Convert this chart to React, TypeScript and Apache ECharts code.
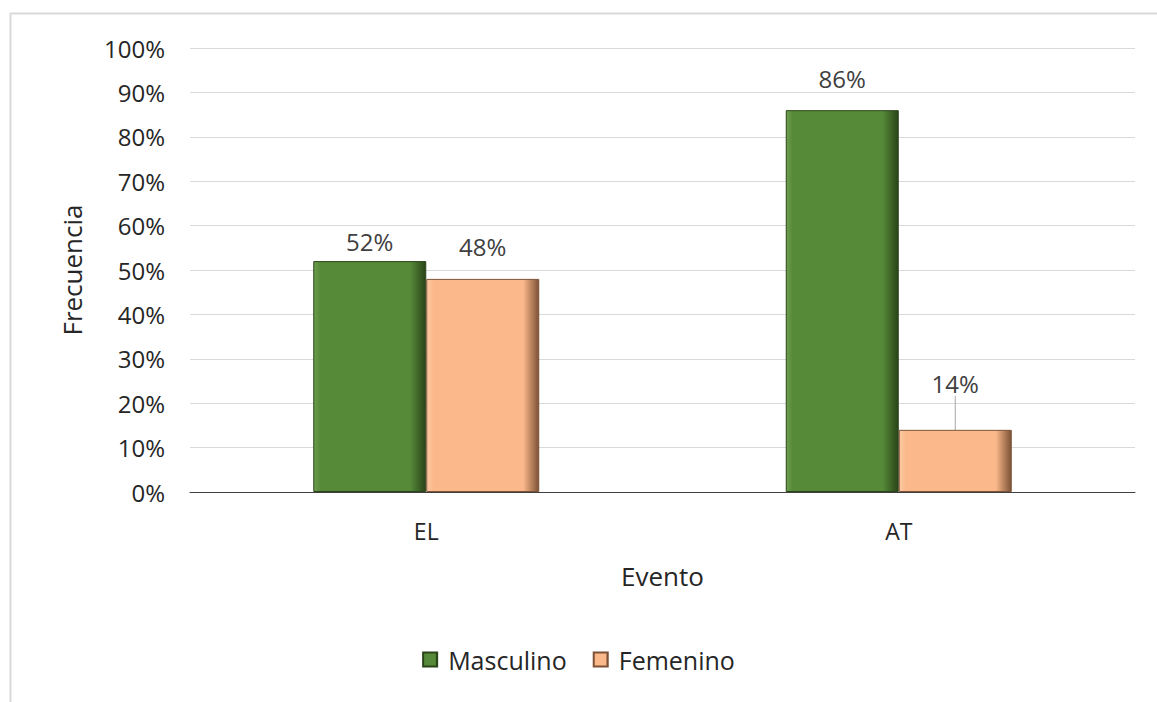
import React, { useEffect, useRef } from "react";
import * as echarts from "echarts";

const categories = ["EL", "AT"];
const masculino = [52, 86];
const femenino = [48, 14];
const seriesNames = ["Masculino", "Femenino"];
const yTicks = [0, 10, 20, 30, 40, 50, 60, 70, 80, 90, 100];

const FONT = "'Open Sans', 'Noto Sans', sans-serif";

function barColor(main: string, light: string, dark: string) {
  return new echarts.graphic.LinearGradient(0, 0, 1, 0, [
    { offset: 0, color: light },
    { offset: 0.06, color: main },
    { offset: 0.86, color: main },
    { offset: 1, color: dark },
  ]);
}

export default function App() {
  const ref = useRef<HTMLDivElement>(null);
  useEffect(() => {
    if (!ref.current) return;
    const chart = echarts.init(ref.current, undefined, { renderer: "svg" });
    const green = "#568A38";
    const greenLight = "#6c9e4c";
    const greenDark = "#2a4418";
    const orange = "#FBB98B";
    const orangeLight = "#fcc9a4";
    const orangeDark = "#7d5236";
    const labelBase = {
      show: true,
      position: "top",
      distance: 20,
      formatter: "{c}%",
      fontSize: 24,
      color: "#404040",
      fontFamily: FONT,
    };
    chart.setOption({
      animation: false,
      backgroundColor: "#ffffff",
      textStyle: { fontFamily: FONT },
      graphic: [
        {
          type: "rect",
          shape: { x: 10.5, y: 13.5, width: 1160, height: 700 },
          style: { fill: "none", stroke: "#d9d9d9", lineWidth: 2 },
          silent: true,
        },
      ],
      grid: { left: 190, right: 22, top: 48, bottom: 210, containLabel: false },
      legend: {
        bottom: 25,
        left: "center",
        itemWidth: 14,
        itemHeight: 14,
        itemGap: 26,
        icon: "rect",
        textStyle: {
          fontSize: 25,
          color: "#262626",
          fontFamily: FONT,
          padding: [0, 0, 0, 6],
        },
        data: seriesNames,
      },
      xAxis: {
        type: "category",
        data: categories,
        axisTick: { show: false },
        axisLine: { lineStyle: { color: "#404040", width: 1 } },
        axisLabel: { fontSize: 23, color: "#262626", margin: 27, fontFamily: FONT },
        name: "Evento",
        nameLocation: "middle",
        nameGap: 71,
        nameTextStyle: { fontSize: 26, color: "#262626", fontFamily: FONT },
      },
      yAxis: {
        type: "value",
        min: 0,
        max: 100,
        interval: 10,
        axisLabel: {
          fontSize: 24,
          color: "#262626",
          margin: 25,
          fontFamily: FONT,
          formatter: (v: number) => (yTicks.includes(v) ? v + "%" : ""),
        },
        splitLine: { lineStyle: { color: "#d9d9d9", width: 1 } },
        axisLine: { show: false },
        axisTick: { show: false },
        name: "Frecuencia",
        nameLocation: "middle",
        nameGap: 105,
        nameTextStyle: { fontSize: 26, color: "#262626", fontFamily: FONT },
      },
      series: [
        {
          name: seriesNames[0],
          type: "bar",
          data: masculino.map((v, i) =>
            i === 0 ? { value: v, label: { distance: 8 } } : v
          ),
          barWidth: 113,
          barGap: "0%",
          itemStyle: {
            color: barColor(green, greenLight, greenDark),
            borderColor: greenDark,
            borderWidth: 1,
          },
          label: labelBase,
        },
        {
          name: seriesNames[1],
          type: "bar",
          data: femenino.map((v, i) =>
            i === 1
              ? {
                  value: v,
                  label: { distance: 8 },
                  labelLine: { show: true, lineStyle: { color: "#a6a6a6", width: 1 } },
                }
              : v
          ),
          barWidth: 113,
          barGap: "0%",
          itemStyle: {
            color: barColor(orange, orangeLight, orangeDark),
            borderColor: orangeDark,
            borderWidth: 1,
          },
          labelLayout: (params: any) => (params.dataIndex === 1 ? { dy: -26 } : {}),
          label: labelBase,
        },
      ],
    });
    return () => chart.dispose();
  }, []);
  return (
    <div
      ref={ref}
      style={{ position: "fixed", left: 0, top: 0, width: 1157, height: 702 }}
    />
  );
}
